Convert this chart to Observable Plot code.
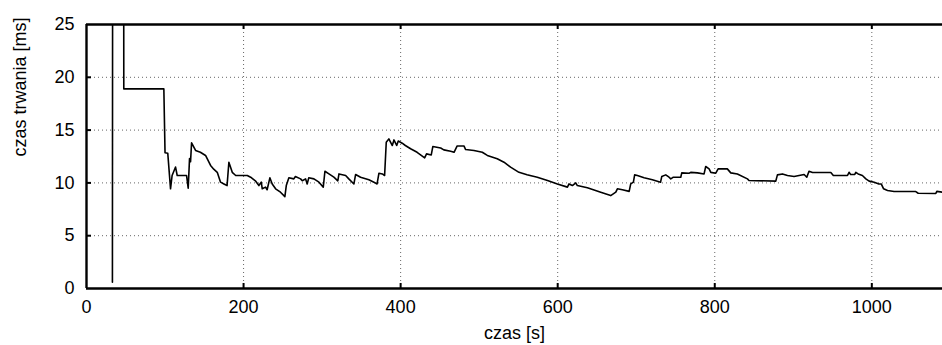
<!DOCTYPE html>
<html>
<head>
<meta charset="utf-8">
<script src="https://cdn.jsdelivr.net/npm/d3@7"></script>
<script src="https://cdn.jsdelivr.net/npm/@observablehq/plot@0.6"></script>
<style>
  html, body { margin: 0; padding: 0; background: #fff; }
</style>
</head>
<body>
<div id="chart"></div>
<script>
const times = [33, 33.5, 47, 47.5, 98.5, 100, 103.5, 107, 109, 113.4, 115.5, 127.4, 129.5, 131.2, 132.5, 133.8, 138.9, 145, 151.6, 158, 162, 166.5, 170.7, 175, 179, 181.3, 185.6, 190, 204.7, 209, 215, 219.5, 222.5, 223.8, 228, 230, 233.5, 236.5, 240.8, 247, 252.6, 254.4, 257.7, 264, 266, 272.6, 274.8, 279, 281, 283, 289.6, 296, 301.5, 303.6, 308.7, 315, 320, 321.5, 330, 334, 340.5, 342.7, 349, 359.6, 366, 370, 372.4, 376.7, 379.6, 381.7, 385, 389.4, 391.5, 395, 397, 402, 406, 412.7, 421, 430.6, 433, 439, 441, 451, 455, 463.7, 468, 472, 480.6, 482.8, 493.4, 504, 510.4, 523, 531.6, 540, 550.7, 561, 574, 587, 599.6, 612.4, 614.4, 618.7, 623, 625, 637.8, 654.8, 667.5, 674, 676, 682.4, 691, 693, 696.4, 698, 701.5, 710, 720.6, 731, 732.5, 737.6, 741.8, 744, 747.3, 756.7, 758, 767.3, 769.4, 778, 786.4, 788.5, 792.8, 795, 801.3, 804.3, 816, 820.4, 828.8, 841.6, 843.6, 877.7, 879.8, 886.2, 892.6, 901, 913.8, 917.2, 920, 924.5, 947.8, 951, 969, 971, 973, 978.3, 979.6, 982.6, 988, 992.4, 996.6, 1003, 1009, 1012, 1015, 1020, 1028.4, 1056, 1059, 1081.5, 1082.8, 1090];
const durations = [0.6, 60, 60, 18.9, 18.9, 12.85, 12.8, 9.44, 10.7, 11.5, 10.7, 10.7, 9.5, 12.3, 12.0, 13.8, 13.07, 12.9, 12.6, 11.65, 11.3, 11.0, 10.07, 9.9, 9.75, 11.96, 11.0, 10.7, 10.7, 10.54, 10.2, 9.75, 10.07, 9.44, 9.6, 9.35, 10.48, 9.9, 9.44, 9.12, 8.7, 9.75, 10.48, 10.38, 10.6, 10.38, 10.2, 10.38, 9.9, 10.48, 10.38, 10.07, 9.6, 11.1, 10.85, 10.54, 10.2, 10.85, 10.7, 10.38, 9.9, 10.8, 10.54, 10.29, 10.07, 9.9, 10.92, 10.85, 10.7, 13.85, 14.17, 13.54, 14.07, 13.54, 13.97, 13.76, 13.54, 13.23, 12.9, 12.37, 12.75, 12.65, 13.44, 13.3, 13.13, 13.0, 12.9, 13.5, 13.5, 13.16, 13.07, 12.9, 12.6, 12.28, 11.96, 11.49, 11.0, 10.77, 10.54, 10.23, 9.9, 9.6, 9.9, 9.75, 10.0, 9.75, 9.54, 9.12, 8.8, 9.12, 9.44, 9.35, 9.2, 9.9, 10.07, 10.76, 10.7, 10.48, 10.29, 10.07, 10.6, 10.76, 10.54, 10.38, 10.54, 10.54, 10.95, 10.92, 11.0, 10.95, 10.85, 11.55, 11.33, 11.0, 10.92, 11.33, 11.33, 10.95, 10.85, 10.38, 10.23, 10.17, 10.76, 10.85, 10.7, 10.6, 10.8, 10.54, 11.1, 10.98, 10.98, 10.7, 10.7, 11.0, 10.8, 10.8, 11.0, 10.85, 10.7, 10.38, 10.17, 10.07, 9.9, 9.9, 9.44, 9.28, 9.18, 9.18, 9.02, 9.0, 9.2, 9.12];
const xTicks = [0, 200, 400, 600, 800, 1000];
const yTicks = [0, 5, 10, 15, 20, 25];
const xLabel = "czas [s]";
const yLabel = "czas trwania [ms]";

const data = times.map((t, i) => ({t, d: durations[i]}));
const innerTicksX = xTicks.filter(d => d > 0);
const innerTicksY = yTicks.filter(d => d > 0 && d < 25);

const W = 942, H = 345, ML = 86, MR = 0, MT = 24, MB = 57;
const frameW = W - ML - MR, frameH = H - MT - MB;
const tickLen = 5;

const chart = Plot.plot({
  width: W,
  height: H,
  marginLeft: ML,
  marginRight: MR,
  marginTop: MT,
  marginBottom: MB,
  style: {fontFamily: "'Liberation Sans', Arial, sans-serif", fontSize: "18px", background: "#fff", color: "#000"},
  x: {domain: [0, 1090]},
  y: {domain: [0, 25]},
  marks: [
    Plot.gridX(innerTicksX, {stroke: "#666", strokeOpacity: 1, strokeDasharray: "1,3", strokeWidth: 1}),
    Plot.gridY(innerTicksY, {stroke: "#666", strokeOpacity: 1, strokeDasharray: "1,3", strokeWidth: 1}),
    Plot.line(data, {x: "t", y: "d", stroke: "#000", strokeWidth: 1.6, clip: true}),
    // frame
    Plot.ruleX([0], {stroke: "#000", strokeWidth: 2.4}),
    Plot.ruleY([0], {stroke: "#000", strokeWidth: 2.4}),
    Plot.ruleY([25], {stroke: "#000", strokeWidth: 2.4}),
    // inward ticks
    Plot.ruleX(innerTicksX, {stroke: "#000", strokeWidth: 2, insetTop: frameH - tickLen}),
    Plot.ruleX(innerTicksX, {stroke: "#000", strokeWidth: 2, insetBottom: frameH - tickLen}),
    Plot.ruleY(innerTicksY, {stroke: "#000", strokeWidth: 2, insetRight: frameW - tickLen}),
    // tick labels
    Plot.axisX(xTicks, {tickSize: 0, tickPadding: 12, label: null, fontSize: 18, tickFormat: d => String(d)}),
    Plot.axisY(yTicks, {tickSize: 0, tickPadding: 12, label: null, fontSize: 18, tickFormat: d => String(d)}),
    // axis titles
    Plot.text([xLabel], {frameAnchor: "bottom", dy: 45, lineAnchor: "middle", fontSize: 18}),
    Plot.text([yLabel], {frameAnchor: "left", dx: -66, rotate: -90, lineAnchor: "middle", fontSize: 18})
  ]
});
document.getElementById("chart").appendChild(chart);
</script>
</body>
</html>
